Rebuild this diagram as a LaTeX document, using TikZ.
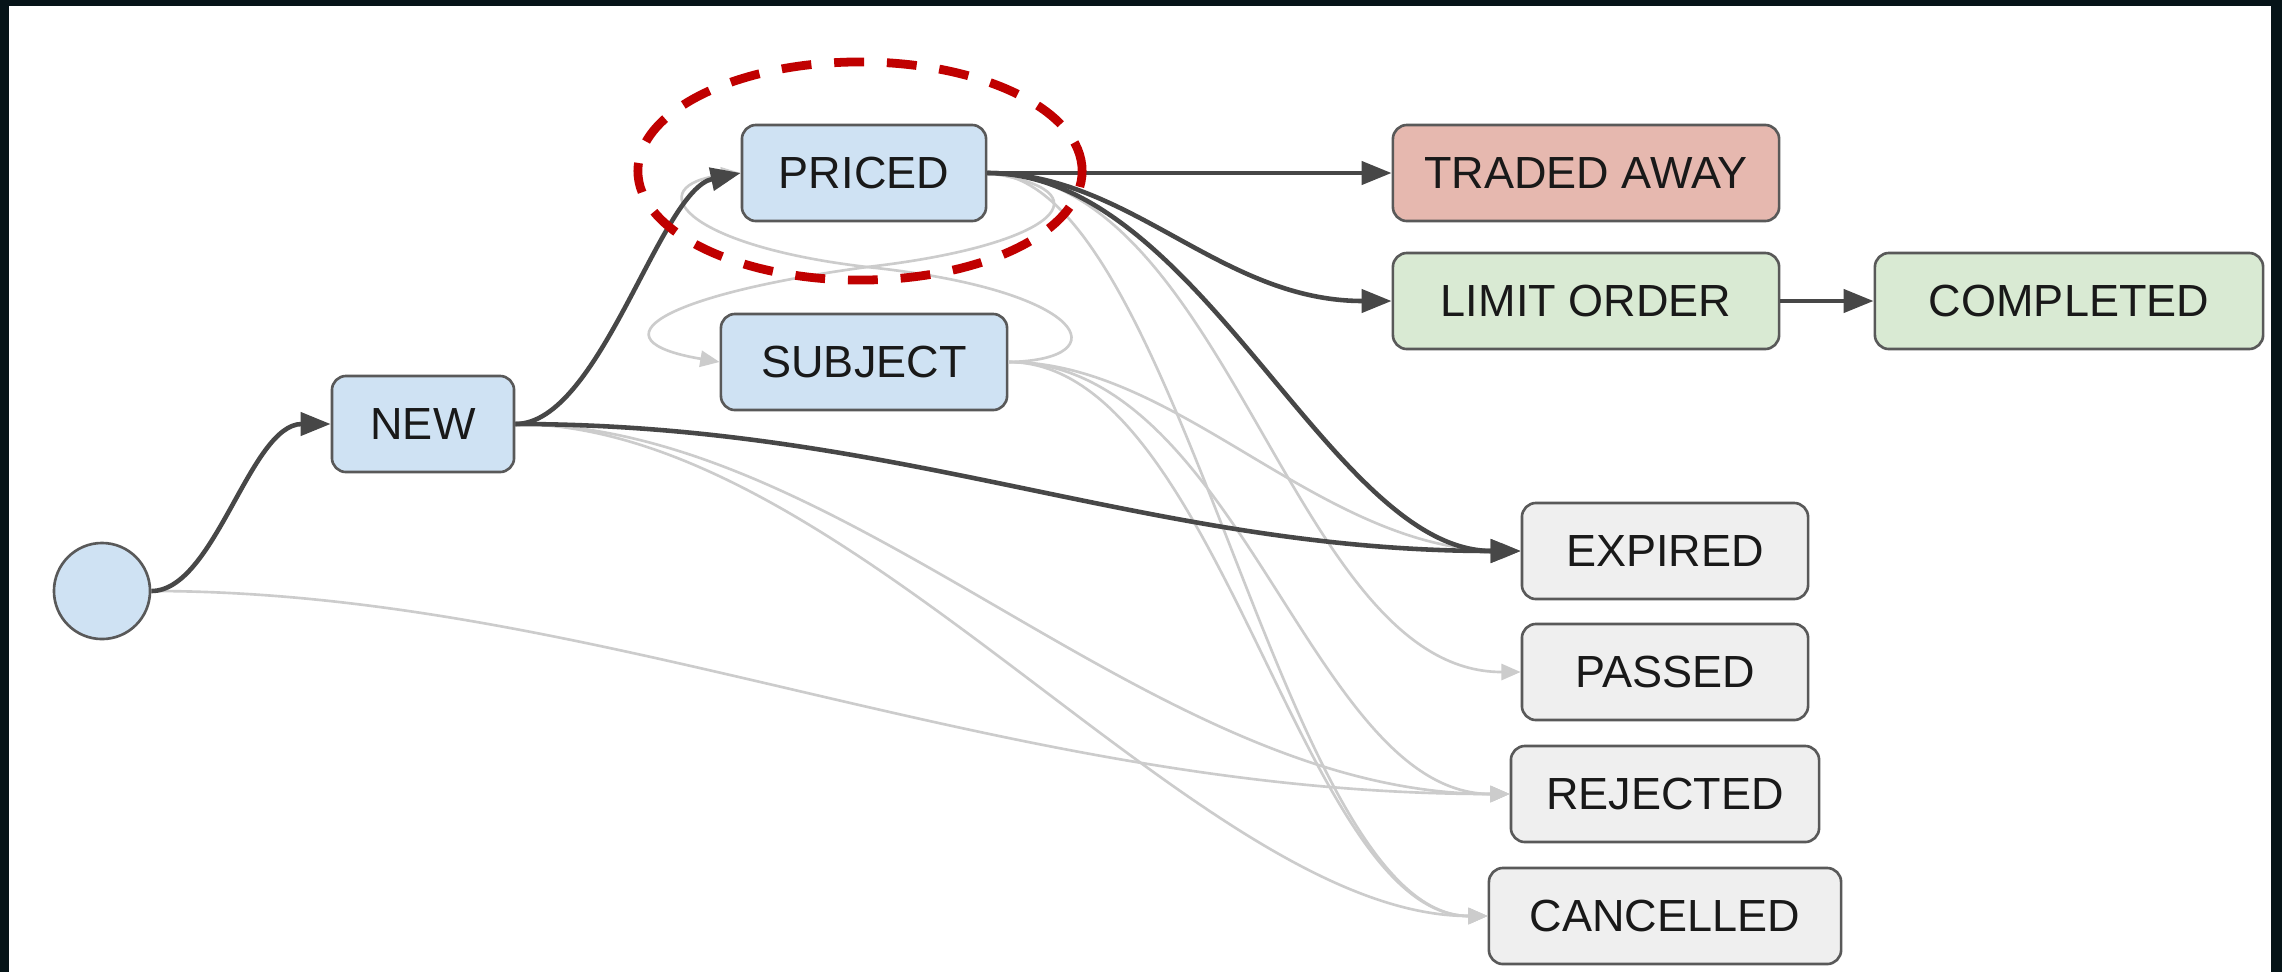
\documentclass[tikz,border=0pt]{standalone}
\usepackage{fontspec}
\setmainfont{Liberation Sans}
\usetikzlibrary{arrows.meta,positioning,calc}
\definecolor{slidedark}{RGB}{6,20,24}
\definecolor{stateblue}{RGB}{207,226,243}
\definecolor{statered}{RGB}{230,184,175}
\definecolor{stategreen}{RGB}{217,234,211}
\definecolor{stategray}{RGB}{239,239,239}
\definecolor{stateborder}{RGB}{89,89,89}
\definecolor{edgedark}{RGB}{71,71,71}
\definecolor{edgelight}{RGB}{204,204,204}
\definecolor{ringred}{RGB}{192,0,0}

\tikzset{
	state/.style={draw=stateborder, line width=0.75pt, rounded corners=4pt, minimum height=0.96cm, inner sep=0pt, text=black!90, font=\fontsize{12.8}{15}\selectfont},
	hot/.style={edgedark, line width=1.3pt, -{Triangle[length=8.5pt,width=6.5pt]}},
	cold/.style={edgelight, line width=0.75pt, -{Triangle[length=5.5pt,width=4.6pt]}}
}

\begin{document}
\begin{tikzpicture}[x=0.01cm, y=-0.01cm]
	% slide frame
	\fill[slidedark] (0,0) rectangle (2282,972);
	\fill[white] (9,6) rectangle (2271,972);
	\useasboundingbox (0,0) rectangle (2282,972);

	% states
	\node[circle, draw=stateborder, line width=0.75pt, fill=stateblue, minimum size=0.96cm] (start) at (102,591) {};
	\node[state, fill=stateblue, minimum width=1.82cm] (new) at (423,424) {NEW};
	\node[state, fill=stateblue, minimum width=2.44cm] (priced) at (864,173) {PRICED};
	\node[state, fill=stateblue, minimum width=2.86cm] (subject) at (864,362) {SUBJECT};
	\node[state, fill=statered, minimum width=3.86cm] (traded) at (1586,173) {TRADED AWAY};
	\node[state, fill=stategreen, minimum width=3.86cm] (limit) at (1586,301) {LIMIT ORDER};
	\node[state, fill=stategreen, minimum width=3.88cm] (completed) at (2069,301) {COMPLETED};
	\node[state, fill=stategray, minimum width=2.86cm] (expired) at (1665,551) {EXPIRED};
	\node[state, fill=stategray, minimum width=2.86cm] (passed) at (1665,672) {PASSED};
	\node[state, fill=stategray, minimum width=3.08cm] (rejected) at (1665,794) {REJECTED};
	\node[state, fill=stategray, minimum width=3.52cm] (cancelled) at (1665,916) {CANCELLED};

	% light transitions
	\coordinate (cross) at (867,267);
	\draw[cold] (start.east) .. controls (600,591) and (1000,794) .. (rejected.west);
	\draw[cold] (new.east) .. controls (850,424) and (1150,794) .. (rejected.west);
	\draw[cold] (new.east) .. controls (850,424) and (1200,916) .. (cancelled.west);
	\draw[cold] (priced.east) .. controls (1110,190) and (1060,245) .. (cross) .. controls (660,295) and (590,340) .. (subject.west);
	\draw[cold] (subject.east) .. controls (1120,360) and (1090,290) .. (cross) .. controls (680,245) and (640,185) .. (priced.west);
	\draw[cold] (priced.east) .. controls (1230,173) and (1290,672) .. (passed.west);
	\draw[cold] (priced.east) .. controls (1180,173) and (1280,916) .. (cancelled.west);
	\draw[cold] (subject.east) .. controls (1180,362) and (1320,551) .. (expired.west);
	\draw[cold] (subject.east) .. controls (1240,362) and (1310,794) .. (rejected.west);
	\draw[cold] (subject.east) .. controls (1220,362) and (1300,916) .. (cancelled.west);

	% main transitions
	\draw[hot] (start.east) .. controls (215,591) and (250,424) .. (new.west);
	\draw[hot] (new.east) .. controls (600,424) and (660,190) .. (priced.west);
	\draw[hot] (new.east) .. controls (900,424) and (1150,551) .. (expired.west);
	\draw[hot] (priced.east) -- (traded.west);
	\draw[hot] (priced.east) .. controls (1130,173) and (1220,301) .. (limit.west);
	\draw[hot] (priced.east) .. controls (1200,173) and (1330,551) .. (expired.west);
	\draw[hot] (limit.east) -- (completed.west);

	% highlight
	\draw[ringred, line width=2.5pt, dash pattern=on 8.5pt off 6.5pt] (860,171) ellipse [x radius=2.22cm, y radius=1.09cm];
\end{tikzpicture}
\end{document}
